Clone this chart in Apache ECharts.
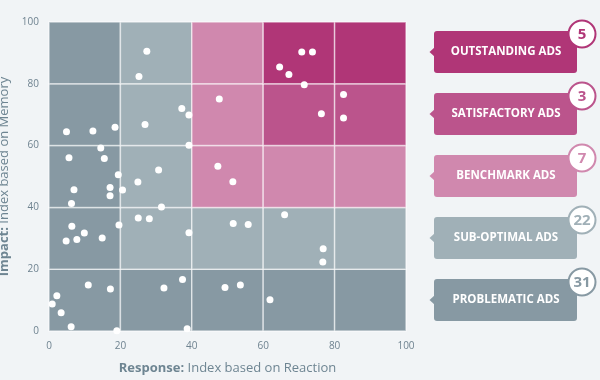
<!DOCTYPE html>
<html>
<head>
<meta charset="utf-8">
<script src="https://cdn.jsdelivr.net/npm/echarts@6/dist/echarts.min.js"></script>
<style>html,body{margin:0;padding:0;background:#f1f4f6;}#c{width:600px;height:380px;}</style>
</head>
<body>
<div id="c"></div>
<script>
// Response (x) and Impact (y) values for each ad
const respX = [70.8,73.8,64.6,67.2,71.5, 82.5,76.3,82.5, 47.7,47.3,51.5,
  27.4,25.2,37.2,39.2,26.9,39.2,30.7,24.9,20.6,31.5,25.0,28.1,39.2,51.6,55.8,66.0,76.8,76.7,
  4.9,12.3,18.5,14.5,5.6,15.5,19.4,7.0,17.1,17.1,6.3,6.4,19.6,9.9,4.8,7.8,14.9,37.4,32.2,11.0,17.2,2.2,0.9,3.4,6.2,19.0,38.7,49.3,53.6,61.9];
const impY = [90.3,90.3,85.4,83.0,79.7, 76.5,70.3,68.9, 75.1,53.3,48.3,
  90.5,82.4,72.0,69.9,66.8,60.1,52.1,48.2,45.6,40.1,36.6,36.3,31.8,34.8,34.5,37.6,26.6,22.3,
  64.5,64.7,65.9,59.2,56.1,55.8,50.6,45.7,46.4,43.8,41.3,33.9,34.3,31.7,29.1,29.6,30.1,16.7,13.9,14.9,13.6,11.4,8.7,5.9,1.4,0.1,0.7,14.1,14.9,10.1];

// Category names, counts and colours
const adNames = ['OUTSTANDING ADS','SATISFACTORY ADS','BENCHMARK ADS','SUB-OPTIMAL ADS','PROBLEMATIC ADS'];
const adCounts = [5,3,7,22,31];
const adColors = ['#b03677','#bb548c','#d088ae','#a0b0b7','#8799a3'];

// Grid cell categories, rows from bottom (impact 0-20) to top (80-100)
const cellClass = [
  [4,4,4,4,4],
  [4,3,3,3,3],
  [4,3,2,2,2],
  [4,3,2,1,1],
  [4,3,2,0,0]
];
const cellSize = 20;

const xName = ['Response:', 'Index based on Reaction'];
const yName = ['Impact:', 'Index based on Memory'];

const cells = [];
cellClass.forEach((row, r) => row.forEach((cls, c) => {
  cells.push([c*cellSize, r*cellSize, (c+1)*cellSize, (r+1)*cellSize, cls]);
}));
const points = respX.map((x, i) => [x, impY[i]]);

const chart = echarts.init(document.getElementById('c'), null, {renderer:'canvas'});
const FONT = 'Open Sans';
const axisCol = '#6f8390';

const graphics = [];
const boxL = 434, boxW = 143, boxH = 42, boxTop0 = 31, boxStep = 62;
adNames.forEach((nm, i) => {
  const top = boxTop0 + i*boxStep;
  const col = adColors[i];
  graphics.push(
    {type:'polygon', silent:true, shape:{points:[[boxL+1, top+boxH/2-5],[boxL-4.5, top+boxH/2],[boxL+1, top+boxH/2+5]]}, style:{fill:col}},
    {type:'rect', silent:true, shape:{x:boxL, y:top, width:boxW, height:boxH, r:3}, style:{fill:col}},
    {type:'text', silent:true, x:boxL+boxW/2 + 0.5, y:top+boxH/2, style:{text:nm, fill:'#fff', font:'bold 11.5px "Open Sans"', align:'center', verticalAlign:'middle'}},
    {type:'circle', silent:true, shape:{cx:boxL+boxW+5, cy:top+3, r:13.5}, style:{fill:'#fff', stroke:col, lineWidth:2}},
    {type:'text', silent:true, x:boxL+boxW+5, y:top+3.5, style:{text:String(adCounts[i]), fill:col, font:'bold 15px "Open Sans"', align:'center', verticalAlign:'middle'}}
  );
});

chart.setOption({
  backgroundColor:'#f1f4f6',
  animation:false,
  textStyle:{fontFamily:FONT},
  grid:{left:49, right:194, top:22, bottom:49, containLabel:false, outerBoundsMode:'none'},
  xAxis:{
    type:'value', min:0, max:100, interval:20,
    axisLine:{show:false}, axisTick:{show:false}, splitLine:{show:false},
    axisLabel:{color:axisCol, fontSize:10, margin:10, fontFamily:FONT},
    name:'{b|'+xName[0]+'} '+xName[1], nameLocation:'middle', nameGap:31,
    nameTextStyle:{color:'#6e8592', fontSize:13, fontFamily:FONT, rich:{b:{fontWeight:'bold', color:'#6e8592', fontSize:13, fontFamily:FONT}}}
  },
  yAxis:{
    type:'value', min:0, max:100, interval:20,
    axisLine:{show:false}, axisTick:{show:false}, splitLine:{show:false},
    axisLabel:{color:axisCol, fontSize:10, margin:10, fontFamily:FONT},
    name:'{b|'+yName[0]+'} '+yName[1], nameLocation:'middle', nameGap:33,
    nameTextStyle:{color:'#6e8592', fontSize:13, fontFamily:FONT, rich:{b:{fontWeight:'bold', color:'#6e8592', fontSize:13, fontFamily:FONT}}}
  },
  series:[
    {
      type:'custom', silent:true, z:1,
      data:cells,
      encode:{x:[0,2], y:[1,3]},
      renderItem:(params, api) => {
        const p0 = api.coord([api.value(0), api.value(1)]);
        const p1 = api.coord([api.value(2), api.value(3)]);
        return {type:'rect', shape:{x:p0[0], y:p1[1], width:p1[0]-p0[0], height:p0[1]-p1[1]},
          style:{fill:adColors[api.value(4)], stroke:'rgba(255,255,255,0.55)', lineWidth:1.5}};
      }
    },
    {
      type:'scatter', z:3, silent:true,
      data:points, symbolSize:7,
      itemStyle:{color:'#ffffff', opacity:1}
    }
  ],
  graphic:graphics
});
</script>
</body>
</html>
